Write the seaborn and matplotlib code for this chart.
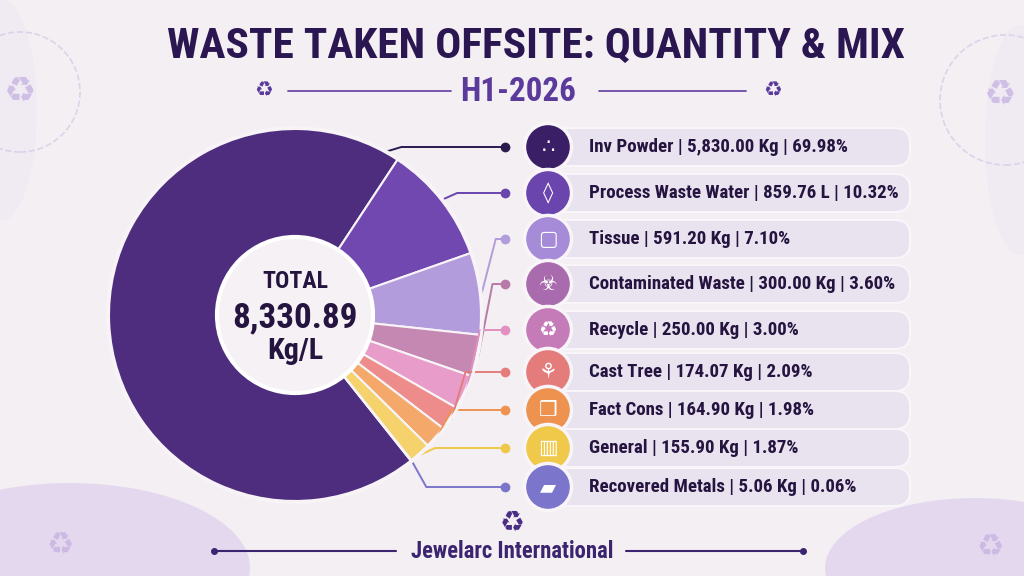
import numpy as np
import pandas as pd
import seaborn as sns
import matplotlib.pyplot as plt
import matplotlib.font_manager as fm
from matplotlib.patches import Circle, Ellipse, FancyBboxPatch

# Waste data, H1-2026
categories = ["Inv Powder", "Process Waste Water", "Tissue", "Contaminated Waste",
              "Recycle", "Cast Tree", "Fact Cons", "General", "Recovered Metals"]
amounts = [5830.00, 859.76, 591.20, 300.00, 250.00, 174.07, 164.90, 155.90, 5.06]
units = ["Kg", "L", "Kg", "Kg", "Kg", "Kg", "Kg", "Kg", "Kg"]
shares = [69.98, 10.32, 7.10, 3.60, 3.00, 2.09, 1.98, 1.87, 0.06]
icons = ["∴", "◊", "▢", "☣", "♻", "⚘", "❒", "▥", "▰"]

slice_colors = ["#4e2d7e", "#7048b0", "#b29cdc", "#c588b2", "#e89cc9",
                "#ee8c8c", "#f4a86a", "#f5d26c", "#8d88d8"]
icon_colors = ["#3a1f66", "#6a45ae", "#a58bd8", "#a96bae", "#c67bb9",
               "#e47c7c", "#ee9250", "#f0c94a", "#7b76cc"]
line_colors = ["#2b1a4e", "#6a45ae", "#b29cdc", "#b87aa6", "#e290bf",
               "#e47c7c", "#ee9250", "#efc84a", "#7b76cc"]

df = pd.DataFrame({"category": categories, "amount": amounts,
                   "unit": units, "share": shares})
total = df["amount"].sum()

sns.set_theme(style="white")

# pick the narrowest family that is installed
names = {f.name for f in fm.fontManager.ttflist}
dejavu_cond = any(f.name == "DejaVu Sans" and "condensed" in str(f.stretch)
                  for f in fm.fontManager.ttflist)
stretch = "normal"
if "Liberation Sans Narrow" in names:
    family = ["Liberation Sans Narrow", "DejaVu Sans"]
elif "Roboto Condensed" in names:
    family = ["Roboto Condensed", "DejaVu Sans"]
elif dejavu_cond:
    family = ["DejaVu Sans"]
    stretch = "condensed"
else:
    family = ["Roboto", "DejaVu Sans"]
plt.rcParams["font.family"] = family
plt.rcParams["font.stretch"] = stretch

W, H = 1024, 576
bg = "#f4eff3"
dark = "#24143f"


def py(y):
    # pixel row (from top) to data y
    return H - y


fig = plt.figure(figsize=(10.24, 5.76), dpi=100, facecolor=bg)
ax = fig.add_axes([0, 0, 1, 1])
ax.set_facecolor(bg)
renderer = fig.canvas.get_renderer()


def width_of(t):
    return t.get_window_extent(renderer=renderer).width


def fit(t, width):
    # scale a text's font size so it spans the given pixel width
    t.set_fontsize(t.get_fontsize() * width / width_of(t))
    return t.get_fontsize()


# soft background decoration
for (x, y, w, h, a) in [(70, 568, 360, 170, 0.32), (975, 568, 300, 140, 0.32),
                        (1020, 140, 70, 230, 0.07), (2, 110, 70, 220, 0.07)]:
    ax.add_patch(Ellipse((x, py(y)), w, h, color="#c3aae6", alpha=a, lw=0, zorder=0))
for (x, y, r) in [(20, 92, 60), (1005, 100, 65)]:
    ax.add_patch(Circle((x, py(y)), r, fill=False, ec="#ddd2ea", lw=1.2,
                        ls="--", zorder=0))
for (x, y, s) in [(20, 92, 26), (1000, 95, 26), (60, 545, 22), (990, 548, 22)]:
    ax.text(x, py(y), "♻", fontsize=s, color="#c2aee0", alpha=0.7,
            ha="center", va="center", family="DejaVu Sans", zorder=0)

# donut
cx, cy, R, inner = 295, py(315), 186, 78
wedges, _ = ax.pie(df["amount"], colors=slice_colors, startangle=308.5,
                   counterclock=False, radius=R, center=(cx, cy),
                   wedgeprops=dict(width=R - inner, edgecolor="#f7f3f6", linewidth=1.5))
ax.add_patch(Circle((cx, cy), R + 1.5, fill=False, ec="#f7f3f6", lw=2, zorder=3))
ax.add_patch(Circle((cx, cy), inner, fc="#f5f1f4", ec="#ffffff", lw=3, zorder=3))
t = ax.text(cx, py(282), "TOTAL", ha="center", va="center", fontsize=20,
            fontweight="bold", color=dark, zorder=4)
fit(t, 66)
t = ax.text(cx, py(318), f"{total:,.2f}", ha="center", va="center", fontsize=24,
            fontweight="bold", color=dark, zorder=4)
fit(t, 126)
t = ax.text(cx, py(351), "Kg/L", ha="center", va="center", fontsize=20,
            fontweight="bold", color=dark, zorder=4)
fit(t, 56)

# legend rows
row_y = [147, 193, 239, 284, 330, 372, 410, 448, 487]
dot_x, icon_x, text_x = 505, 548, 589
labels = []

for i, w in enumerate(wedges):
    yr = py(row_y[i])
    ax.add_patch(FancyBboxPatch((530, yr - 19), 380, 38,
                                boxstyle="round,pad=0,rounding_size=15",
                                fc="#e9e2ef", ec="#f9f6fa", lw=1.5, zorder=1))
    span = (w.theta2 - w.theta1) % 360
    ang = w.theta1 + 4 if span > 180 else (w.theta1 + w.theta2) / 2
    a = np.deg2rad(ang)
    x0, y0 = cx + (R + 2) * np.cos(a), cy + (R + 2) * np.sin(a)
    ax.plot([x0, x0 + 14, dot_x], [y0, yr, yr], color=line_colors[i], lw=1.4,
            zorder=2, solid_capstyle="round")
    ax.plot(dot_x, yr, "o", ms=6, color=line_colors[i], zorder=2)
    label = f"{df.category[i]} | {df.amount[i]:,.2f} {df.unit[i]} | {df.share[i]:.2f}%"
    labels.append(ax.text(text_x, yr, label, ha="left", va="center", fontsize=13,
                          fontweight="bold", color=dark, zorder=4))

# one common size: the widest rows must end where the reference ones do
size = min(labels[0].get_fontsize() * 279 / width_of(labels[0]),
           labels[1].get_fontsize() * 310 / width_of(labels[1]),
           labels[3].get_fontsize() * 306 / width_of(labels[3]))
for t in labels:
    t.set_fontsize(size)

icon_df = pd.DataFrame({"x": [icon_x] * len(categories),
                        "y": [py(v) for v in row_y], "category": categories})
sns.scatterplot(data=icon_df, x="x", y="y", hue="category", palette=icon_colors,
                s=1150, edgecolor="#f8f4f8", linewidth=2.5, legend=False, ax=ax, zorder=3)
for i, g in enumerate(icons):
    ax.text(icon_x, py(row_y[i]), g, ha="center", va="center", fontsize=15,
            color="white", family="DejaVu Sans", zorder=4)

# title and subtitle
t = ax.text(W / 2 + 24, py(46), "WASTE TAKEN OFFSITE: QUANTITY & MIX", ha="center",
            va="center", fontsize=28, fontweight="heavy", color="#2a1650")
fit(t, 737)
t = ax.text(518, py(92), "H1-2026", ha="center", va="center", fontsize=20,
            fontweight="bold", color="#5b3a9b")
fit(t, 116)
ax.plot([288, 451], [py(91)] * 2, color="#6a4aa6", lw=1.3)
ax.plot([599, 746], [py(91)] * 2, color="#6a4aa6", lw=1.3)
for x in (264, 773):
    ax.text(x, py(90), "♻", ha="center", va="center", fontsize=15,
            color="#5b3a9b", family="DejaVu Sans")

# footer
ax.text(W / 2, py(523), "♻", ha="center", va="center", fontsize=20,
        color="#4a2d85", family="DejaVu Sans")
t = ax.text(W / 2, py(551), "Jewelarc International", ha="center", va="center",
            fontsize=15, fontweight="bold", color="#3b2470")
fit(t, 202)
ax.plot([214, 396], [py(551)] * 2, color="#3b2470", lw=1.5)
ax.plot([626, 803], [py(551)] * 2, color="#3b2470", lw=1.5)
ax.plot([214, 803], [py(551)] * 2, "o", ms=4, color="#3b2470")

ax.set_xlim(0, W)
ax.set_ylim(0, H)
ax.set_aspect("auto")
ax.axis("off")

fig.savefig("out.png", dpi=100, facecolor=bg)
